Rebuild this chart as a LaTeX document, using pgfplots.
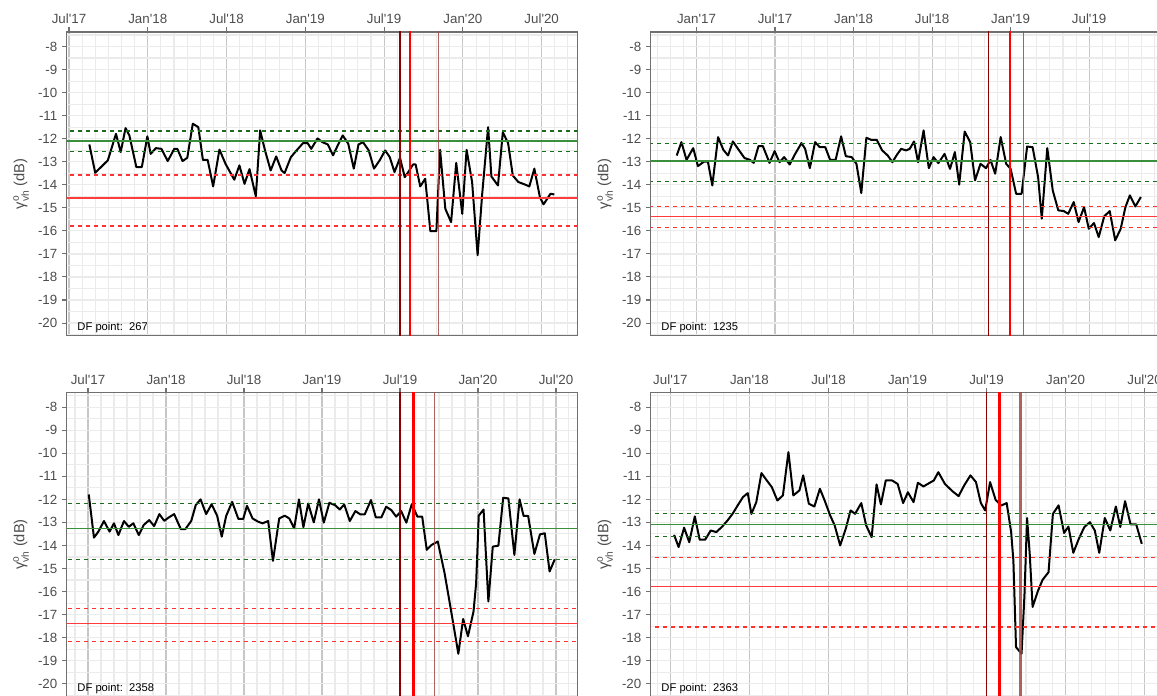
\documentclass[border=0pt]{standalone}
\usepackage{fontspec}
\setmainfont{Liberation Sans}[Ligatures=TeXOff]
\usepackage{amsmath}
\usepackage{pgfplots}
\pgfplotsset{compat=1.18}
\definecolor{tickgray}{HTML}{4D4D4D}
\definecolor{framegray}{HTML}{707070}
\definecolor{gmaj}{HTML}{C6C6C6}
\definecolor{gmin}{HTML}{EBEBEB}
\definecolor{gsolid}{HTML}{3A8F3A}
\definecolor{gdash}{HTML}{1E6B1E}
\definecolor{rsolid}{HTML}{FF3B3B}
\definecolor{rdash}{HTML}{FF3030}
\definecolor{vdark}{HTML}{8B0000}
\definecolor{vred}{HTML}{FF0000}
\definecolor{vbrown}{HTML}{A04848}

\pgfplotsset{
  panel/.style={
    scale only axis, width=383.25pt, height=227.8pt,
    anchor=north west,
    ymin=-20.55, ymax=-7.37,
    ytick={-20,-19,...,-8},
    yticklabels={-20,-19,-18,-17,-16,-15,-14,-13,-12,-11,-10,-9,-8},
    minor ytick={-20.5,-19.5,...,-7.5},
    minor xtick={-10,-9,...,40},
    xtick pos=right, xticklabel pos=right,
    ytick pos=left,
    tick align=outside,
    major tick length=3.5pt, minor tick length=0pt,
    grid=both,
    major x grid style={gmaj, line width=0.8pt},
    major y grid style={gmin, line width=0.9pt},
    minor grid style={gmin, line width=0.8pt},
    axis line style={framegray, line width=1pt},
    tick style={framegray, line width=0.8pt},
    ticklabel style={font=\fontsize{10}{12}\selectfont, text=tickgray},
    xticklabel style={yshift=-1pt},
    ylabel={$\text{γ}^{\text{o}}_{\text{vh}}$ (dB)},
    ylabel style={font=\fontsize{11}{13}\selectfont, text=tickgray},
    clip=true,
  },
  dataline/.style={black, line width=1.5pt, line join=round},
}
\newcommand{\hlines}[6]{%
  \addplot[gdash, line width=0.9pt, dash pattern=on 3pt off 3pt] coordinates {(-20,#1) (50,#1)};
  \addplot[gsolid, line width=0.9pt] coordinates {(-20,#2) (50,#2)};
  \addplot[gdash, line width=0.9pt, dash pattern=on 3pt off 3pt] coordinates {(-20,#3) (50,#3)};
  \addplot[rdash, line width=0.9pt, dash pattern=on 3pt off 3pt] coordinates {(-20,#4) (50,#4)};
  \addplot[rsolid, line width=0.9pt] coordinates {(-20,#5) (50,#5)};
  \addplot[rdash, line width=0.9pt, dash pattern=on 3pt off 3pt] coordinates {(-20,#6) (50,#6)};
}
\newcommand{\vlines}[4]{%
  \addplot[vdark, line width=0.8pt] coordinates {(#1,-30) (#1,0)};
  \addplot[vred, line width=2pt] coordinates {(#2,-30) (#2,0)};
  \addplot[vbrown, line width=#4, opacity=0.85] coordinates {(#3,-30) (#3,0)};
}
\newcommand{\dfnode}[1]{\node[anchor=south west, inner sep=1pt, font=\fontsize{8.4}{10}\selectfont] at (rel axis cs:0.018,0.004) {DF point:\ \ #1};}

\begin{document}
\begin{tikzpicture}
\useasboundingbox (0,0) rectangle (867.75pt,522pt);
\clip (0,0) rectangle (867.75pt,522pt);

% ---------------- Panel 1 ----------------
\begin{axis}[panel, at={(50pt,498pt)}, xmin=-0.175, xmax=38.74,
  xtick={0,6,12,18,24,30,36},
  xticklabels={Jul'17,Jan'18,Jul'18,Jan'19,Jul'19,Jan'20,Jul'20}]
\addplot[dataline] coordinates {
(1.55,-12.25) (2.0,-13.48) (2.96,-12.94) (3.58,-11.79) (3.94,-12.58) (4.31,-11.54)
(4.6,-11.86) (5.13,-13.23) (5.55,-13.23) (5.97,-11.9) (6.22,-12.66) (6.62,-12.41)
(7.04,-12.44) (7.52,-12.97) (8.02,-12.44) (8.25,-12.44) (8.65,-12.97) (9.01,-12.83)
(9.43,-11.35) (9.85,-11.5) (10.2,-12.92) (10.56,-12.92) (10.98,-14.07) (11.46,-12.47)
(11.92,-13.09) (12.59,-13.78) (12.98,-13.16) (13.37,-13.96) (13.75,-13.32) (14.23,-14.5)
(14.56,-11.64) (14.93,-12.51) (15.36,-13.38) (15.78,-12.77) (16.19,-13.38) (16.42,-13.49)
(16.9,-12.8) (17.33,-12.51) (17.83,-12.19) (18.17,-12.19) (18.45,-12.44) (18.93,-11.99)
(19.3,-12.15) (19.71,-12.25) (20.11,-12.72) (20.47,-12.29) (20.85,-11.86) (21.27,-12.22)
(21.69,-13.3) (22.05,-12.25) (22.39,-12.15) (22.83,-12.51) (23.23,-13.3) (23.66,-12.94)
(24.08,-12.51) (24.43,-12.8) (24.79,-13.45) (25.21,-12.83) (25.57,-13.67) (25.84,-13.45)
(26.2,-13.12) (26.4,-13.12) (26.75,-14.07) (27.13,-13.74) (27.52,-16.01) (27.98,-16.01)
(28.26,-12.48) (28.66,-15.04) (29.1,-15.62) (29.49,-13.05) (29.95,-15.26) (30.28,-12.48)
(30.7,-13.88) (31.12,-17.06) (31.47,-14.39) (31.92,-11.5) (32.17,-13.64) (32.67,-14.03)
(33.04,-11.72) (33.44,-12.19) (33.8,-13.6) (34.22,-13.88) (34.73,-13.99) (35.06,-14.07)
(35.44,-13.3) (35.86,-14.53) (36.14,-14.85) (36.67,-14.39) (36.96,-14.42)
};
\hlines{-11.67}{-12.1}{-12.55}{-13.58}{-14.57}{-15.79}
\vlines{25.21}{25.97}{28.17}{0.8pt}
\dfnode{267}
\end{axis}

% ---------------- Panel 2 ----------------
\begin{axis}[panel, at={(488pt,498pt)}, xmin=-9.5, xmax=29.54,
  xtick={-6,0,6,12,18,24},
  xticklabels={Jan'17,Jul'17,Jan'18,Jul'18,Jan'19,Jul'19}]
\addplot[dataline] coordinates {
(-7.51,-12.73) (-7.15,-12.15) (-6.76,-12.92) (-6.25,-12.41) (-5.89,-13.19) (-5.41,-12.99)
(-5.13,-12.99) (-4.79,-14.03) (-4.35,-11.93) (-3.95,-12.48) (-3.59,-12.73) (-3.22,-12.12)
(-2.83,-12.44) (-2.33,-12.84) (-1.91,-12.92) (-1.63,-13.05) (-1.26,-12.32) (-0.93,-12.32)
(-0.42,-13.05) (-0.03,-12.54) (0.34,-13.02) (0.7,-12.8) (1.12,-13.12) (1.54,-12.66)
(2.02,-12.19) (2.3,-12.44) (2.66,-13.28) (3.06,-12.15) (3.42,-12.37) (3.84,-12.37)
(4.21,-12.92) (4.63,-12.92) (5.05,-11.9) (5.41,-12.76) (5.86,-12.8) (6.22,-13.09)
(6.59,-14.36) (6.98,-11.96) (7.35,-12.05) (7.77,-12.05) (8.19,-12.51) (8.61,-12.73)
(8.97,-13.02) (9.31,-12.7) (9.64,-12.44) (10.01,-12.51) (10.29,-12.44) (10.62,-12.12)
(10.93,-13.02) (11.35,-11.64) (11.75,-13.28) (12.11,-12.8) (12.48,-13.06) (12.95,-12.66)
(13.37,-13.31) (13.74,-12.58) (14.07,-13.99) (14.49,-11.69) (14.91,-12.15) (15.28,-13.81)
(15.7,-13.09) (16.12,-13.28) (16.46,-12.92) (16.82,-13.52) (17.24,-11.93) (17.66,-13.09)
(18.0,-13.31) (18.42,-14.39) (18.84,-14.39) (19.26,-12.34) (19.68,-12.37) (20.1,-13.67)
(20.38,-15.47) (20.8,-12.41) (21.22,-14.25) (21.64,-15.11) (22.06,-15.14) (22.4,-15.26)
(22.82,-14.75) (23.19,-15.62) (23.61,-14.97) (23.97,-15.91) (24.37,-15.66) (24.73,-16.27)
(25.15,-15.37) (25.57,-15.14) (25.99,-16.41) (26.41,-15.91) (26.77,-14.97) (27.11,-14.46)
(27.53,-14.94) (27.95,-14.53)
};
\hlines{-12.22}{-12.97}{-13.86}{-14.94}{-15.36}{-15.86}
\vlines{16.28}{17.96}{19.0}{0.8pt}
\dfnode{1235}
\end{axis}

% ---------------- Panel 3 ----------------
\begin{axis}[panel, at={(50pt,227.5pt)}, xmin=-1.64, xmax=37.67,
  xtick={0,6,12,18,24,30,36},
  xticklabels={Jul'17,Jan'18,Jul'18,Jan'19,Jul'19,Jan'20,Jul'20}]
\addplot[dataline] coordinates {
(0.06,-11.79) (0.46,-13.66) (0.8,-13.4) (1.23,-12.94) (1.66,-13.4) (2.0,-13.04)
(2.34,-13.55) (2.77,-12.94) (3.14,-13.19) (3.49,-13.04) (3.91,-13.55) (4.29,-13.11)
(4.71,-12.9) (5.09,-13.16) (5.49,-12.64) (5.86,-12.93) (6.23,-12.78) (6.63,-12.64)
(7.14,-13.29) (7.49,-13.29) (7.94,-12.94) (8.29,-12.25) (8.66,-12.0) (9.09,-12.64)
(9.51,-12.21) (9.94,-12.72) (10.29,-13.62) (10.63,-12.72) (11.09,-12.11) (11.57,-12.85)
(11.94,-12.85) (12.23,-12.28) (12.66,-12.83) (13.09,-12.97) (13.43,-13.04) (13.86,-12.94)
(14.23,-14.67) (14.71,-12.83) (15.14,-12.71) (15.49,-12.83) (15.86,-13.26) (16.23,-12.0)
(16.57,-13.21) (16.94,-12.18) (17.37,-13.0) (17.77,-12.0) (18.14,-13.01) (18.57,-12.15)
(19.0,-12.25) (19.37,-12.44) (19.71,-12.22) (20.14,-12.94) (20.57,-12.51) (20.94,-12.65)
(21.29,-12.65) (21.77,-12.03) (22.14,-12.78) (22.57,-12.78) (22.94,-12.32) (23.34,-12.47)
(23.71,-12.75) (24.09,-12.51) (24.49,-13.01) (24.91,-12.21) (25.34,-12.75) (25.71,-12.75)
(26.06,-14.19) (26.43,-13.98) (26.91,-13.83) (27.43,-15.2) (27.94,-16.86) (28.49,-18.7)
(28.86,-17.19) (29.23,-17.94) (29.66,-16.86) (29.86,-15.63) (30.06,-12.71) (30.43,-12.44)
(30.8,-16.43) (31.14,-14.05) (31.57,-14.01) (31.94,-11.93) (32.34,-11.96) (32.8,-14.41)
(33.2,-12.0) (33.51,-12.72) (33.86,-12.72) (34.34,-14.37) (34.77,-13.52) (35.14,-13.47)
(35.51,-15.13) (35.91,-14.6)
};
\hlines{-12.18}{-13.26}{-14.6}{-16.72}{-17.39}{-18.17}
\vlines{24.0}{25.06}{26.63}{0.8pt}
\dfnode{2358}
\end{axis}

% ---------------- Panel 4 ----------------
\begin{axis}[panel, at={(488pt,227.5pt)}, xmin=-1.5, xmax=37.3,
  xtick={0,6,12,18,24,30,36},
  xticklabels={Jul'17,Jan'18,Jul'18,Jan'19,Jul'19,Jan'20,Jul'20}]
\addplot[dataline] coordinates {
(0.28,-13.54) (0.62,-14.07) (1.04,-13.23) (1.43,-13.86) (1.85,-12.74) (2.22,-13.75)
(2.64,-13.75) (3.06,-13.35) (3.48,-13.42) (3.9,-13.2) (4.33,-12.92) (4.75,-12.6)
(5.11,-12.26) (5.51,-11.9) (5.87,-11.73) (6.15,-12.63) (6.52,-12.12) (6.91,-10.86)
(7.28,-11.15) (7.7,-11.47) (8.12,-12.05) (8.54,-11.83) (8.96,-9.95) (9.33,-11.83)
(9.8,-11.61) (10.08,-10.96) (10.51,-12.19) (10.93,-12.31) (11.35,-11.54) (11.71,-12.05)
(12.13,-12.7) (12.47,-13.13) (12.89,-14.0) (13.31,-13.28) (13.68,-12.48) (14.02,-12.63)
(14.49,-12.16) (14.86,-13.13) (15.28,-13.64) (15.65,-11.35) (15.98,-12.22) (16.35,-11.18)
(16.83,-11.18) (17.25,-11.33) (17.67,-12.16) (18.03,-11.69) (18.46,-12.12) (18.79,-11.28)
(19.21,-11.44) (19.63,-11.3) (20.0,-11.18) (20.34,-10.82) (20.84,-11.33) (21.4,-11.64)
(21.88,-11.86) (22.3,-11.4) (22.78,-10.96) (23.2,-11.25) (23.57,-12.16) (23.9,-12.48)
(24.27,-11.25) (24.69,-12.02) (25.11,-12.27) (25.53,-12.16) (25.87,-13.42) (26.04,-14.65)
(26.24,-18.41) (26.66,-18.7) (26.88,-16.17) (27.08,-12.81) (27.28,-14.36) (27.5,-16.67)
(27.92,-15.95) (28.26,-15.49) (28.71,-15.16) (29.04,-12.63) (29.47,-12.26) (29.89,-13.46)
(30.22,-13.18) (30.59,-14.32) (31.01,-13.71) (31.43,-13.2) (31.85,-12.99) (32.22,-13.35)
(32.56,-14.32) (32.98,-12.81) (33.4,-13.35) (33.82,-12.31) (34.16,-13.2) (34.52,-12.08)
(34.94,-13.09) (35.37,-13.09) (35.79,-13.93)
};
\hlines{-12.63}{-13.09}{-13.6}{-14.53}{-15.78}{-17.54}
\vlines{23.99}{24.97}{26.57}{1.8pt}
\dfnode{2363}
\end{axis}
\end{tikzpicture}
\end{document}
